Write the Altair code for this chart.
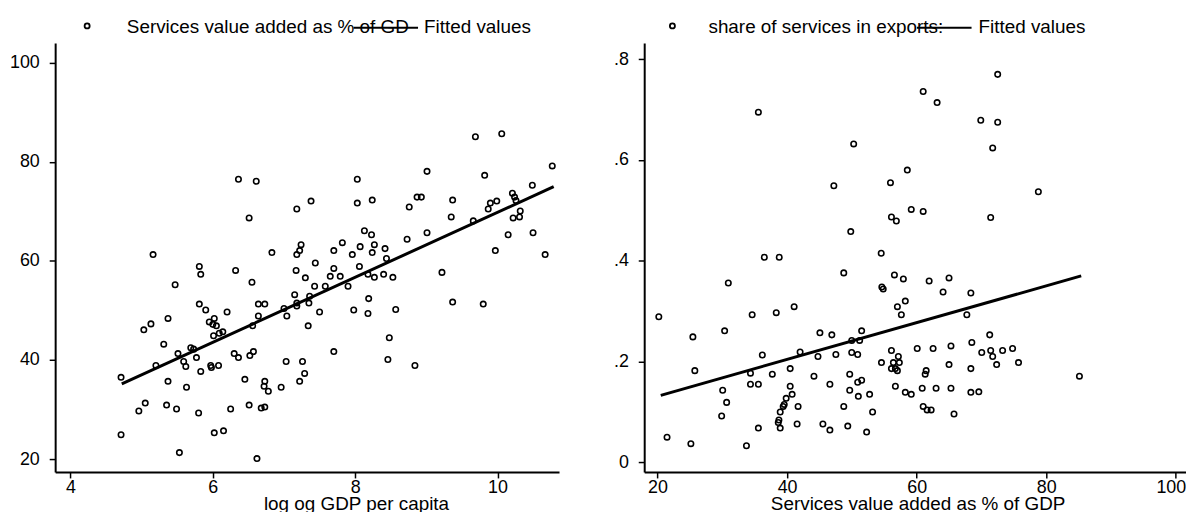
import altair as alt
import pandas as pd

# ---------------- data ----------------
# left panel: log GDP per capita vs services value added (% of GDP)
left_x = [6.36, 6.61, 7.38, 7.18, 6.51, 5.16, 6.83, 7.24, 7.22, 7.18, 7.44, 5.81, 5.83, 6.32, 7.17, 7.30,
          5.47, 6.55, 7.43, 7.58, 7.15, 7.36, 5.81, 5.90, 6.64, 6.73, 7.18, 7.35, 7.18, 7.00, 6.20, 7.50,
          5.37, 5.13, 5.03, 6.02, 5.95, 6.05, 6.00, 6.64, 7.04, 6.56, 7.34, 6.14, 6.09, 6.01, 5.31, 5.69,
          5.73, 5.51, 5.77, 5.59, 5.62, 5.20, 6.30, 6.36, 6.57, 6.52, 5.97, 5.98, 6.08, 5.83, 4.71, 7.03,
          7.26, 7.29, 7.22, 5.37, 5.63, 6.45, 6.73, 6.72, 6.78, 6.96, 5.05, 4.96, 5.35, 5.49, 5.80, 6.25,
          6.51, 6.68, 6.73, 4.71, 6.02, 6.15, 5.53, 6.62,
          9.69, 10.06, 10.77, 9.01, 8.03, 9.82, 10.49, 10.21, 10.24, 10.26, 8.03, 8.24, 8.87, 8.93, 9.37,
          8.76, 9.90, 9.99, 9.87, 10.32, 10.31, 10.22, 9.35, 9.66, 10.15, 10.50, 9.01, 8.73, 8.13, 8.23,
          7.82, 7.70, 8.07, 8.27, 8.24, 7.96, 8.42, 8.44, 9.97, 10.67, 7.70, 8.06, 9.22, 7.79, 8.18, 8.40,
          8.53, 8.27, 7.65,
          7.90, 8.19, 7.98, 8.18, 8.57, 9.37, 9.80, 8.48, 7.70, 8.46, 8.84]
left_y = [76.5, 76.1, 72.1, 70.5, 68.7, 61.3, 61.7, 63.3, 62.1, 61.3, 59.6, 58.9, 57.3, 58.1, 58.1, 56.6,
          55.2, 55.7, 54.9, 54.9, 53.2, 52.9, 51.3, 50.1, 51.3, 51.3, 51.5, 51.5, 50.9, 50.4, 49.7, 49.7,
          48.4, 47.3, 46.1, 48.4, 47.7, 46.9, 47.2, 48.9, 48.9, 46.9, 46.9, 45.7, 45.4, 44.9, 43.2, 42.5,
          42.2, 41.3, 40.5, 39.7, 38.7, 38.9, 41.3, 40.5, 41.7, 40.9, 38.9, 38.5, 38.9, 37.7, 36.5, 39.7,
          39.7, 37.3, 35.7, 35.7, 34.5, 36.1, 35.7, 34.7, 33.7, 34.5, 31.3, 29.7, 30.9, 30.1, 29.3, 30.1,
          30.9, 30.3, 30.5, 24.9, 25.3, 25.7, 21.3, 20.1,
          85.1, 85.7, 79.2, 78.1, 76.5, 77.3, 75.3, 73.7, 72.9, 72.2, 71.7, 72.3, 72.9, 72.9, 72.3,
          70.9, 71.7, 72.1, 70.5, 70.1, 68.9, 68.7, 68.9, 68.1, 65.3, 65.7, 65.7, 64.4, 66.1, 65.3,
          63.7, 62.1, 62.9, 63.3, 61.7, 61.3, 62.5, 60.5, 62.1, 61.3, 58.5, 58.9, 57.7, 56.9, 57.3, 57.3,
          56.7, 56.7, 56.9,
          54.9, 52.4, 50.1, 49.4, 50.2, 51.7, 51.3, 44.5, 41.7, 40.1, 38.9]
left_fit_x = [4.72, 10.79]
left_fit_y = [35.2, 75.0]

# right panel: services value added (% of GDP) vs share of services in exports
right_x = [35.57, 50.28, 58.56, 55.96, 47.22, 59.17, 56.11, 56.87, 49.83, 54.53, 36.49, 38.79, 48.75,
           56.57, 57.95,
           72.51, 61.01, 63.16, 69.90, 72.51, 71.74, 78.79, 61.01, 71.43,
           54.63, 54.84, 30.93, 20.20, 34.61, 38.33, 41.09, 57.03, 58.25, 57.64, 25.46, 30.36, 45.07,
           46.91, 51.51, 49.98, 51.20, 42.01, 36.18, 44.77, 47.53, 49.98, 50.90, 56.11, 57.18, 54.57,
           56.41, 57.33, 56.11, 56.72, 57.03, 25.76, 40.48, 34.35, 37.72, 44.15, 49.67, 34.35, 35.57,
           46.61, 50.90, 51.51, 56.72, 40.48, 30.06, 49.67, 58.25, 59.17, 40.78, 39.86, 39.56, 39.40,
           41.70, 30.67, 51.00, 52.74, 48.75, 38.94, 53.20, 29.90, 38.74, 38.64, 41.55, 45.53, 49.37,
           35.57, 38.94, 46.61, 52.28, 21.47, 25.15, 33.73,
           61.93, 65.00, 64.08, 68.37, 67.75, 71.28, 68.52, 60.09, 62.54, 65.30, 71.43, 73.27, 74.81,
           70.05, 71.74, 72.35, 75.73, 65.00, 68.37, 61.47, 61.32, 85.13, 60.86, 63.00, 65.30, 68.37,
           69.60, 61.01, 61.62, 62.24, 65.77]
right_y = [0.695, 0.632, 0.580, 0.555, 0.549, 0.502, 0.487, 0.479, 0.458, 0.415, 0.407, 0.407, 0.376,
           0.372, 0.364,
           0.770, 0.736, 0.714, 0.679, 0.675, 0.624, 0.537, 0.498, 0.486,
           0.348, 0.344, 0.356, 0.289, 0.293, 0.297, 0.309, 0.309, 0.320, 0.293, 0.249, 0.261, 0.257,
           0.253, 0.261, 0.242, 0.242, 0.219, 0.213, 0.210, 0.214, 0.218, 0.214, 0.222, 0.210, 0.198,
           0.198, 0.198, 0.186, 0.186, 0.182, 0.182, 0.186, 0.177, 0.175, 0.171, 0.175, 0.155, 0.155,
           0.155, 0.159, 0.163, 0.151, 0.151, 0.143, 0.143, 0.139, 0.135, 0.135, 0.127, 0.115, 0.111,
           0.111, 0.119, 0.131, 0.135, 0.111, 0.100, 0.100, 0.092, 0.084, 0.079, 0.076, 0.076, 0.072,
           0.068, 0.068, 0.064, 0.060, 0.050, 0.037, 0.033,
           0.360, 0.366, 0.338, 0.336, 0.293, 0.253, 0.238, 0.226, 0.226, 0.231, 0.222, 0.222, 0.226,
           0.218, 0.210, 0.194, 0.198, 0.194, 0.186, 0.182, 0.175, 0.171, 0.147, 0.147, 0.147, 0.139,
           0.140, 0.111, 0.104, 0.104, 0.096]
right_fit_x = [20.5, 85.4]
right_fit_y = [0.133, 0.370]

# text
left_xtitle = "log og GDP per capita"
right_xtitle = "Services value added as % of GDP"
left_legend = ["Services value added as % of GD", "Fitted values"]
right_legend = ["share of services in exports:", "Fitted values"]
left_xticks = [4, 6, 8, 10]
left_yticks = [20, 40, 60, 80, 100]
right_xticks = [20, 40, 60, 80, 100]
right_yticks = [0, 0.2, 0.4, 0.6, 0.8]

FONT = "Liberation Sans"


def panel(xs, ys, fx, fy, xdom, ydom, xticks, yticks, ylabelexpr, xtitle, titlex,
          width, height, legend, leg, flush_end=False):
    pts = pd.DataFrame({"x": xs, "y": ys})
    fit = pd.DataFrame({"x": fx, "y": fy})
    xargs = dict(values=xticks, title=xtitle, grid=False, domainColor="black", domainWidth=2,
                 tickColor="black", tickWidth=1.5, tickSize=6, labelFont=FONT, labelFontSize=18,
                 labelColor="black", labelPadding=1, labelOverlap=False,
                 titleFont=FONT, titleFontSize=19, titleFontWeight="normal", titleColor="black",
                 titleX=titlex, titleY=37.5, titleBaseline="alphabetic", titleAlign="center",
                 format="d")
    if flush_end:
        # the last label (100) sits right-aligned, pushed 10px outward, as in the reference
        xargs["labelFlush"] = 11
        xargs["labelFlushOffset"] = 10
    else:
        xargs["labelFlush"] = False
    xaxis = alt.Axis(**xargs)
    yargs = dict(values=yticks, title=None, grid=False, domainColor="black", domainWidth=2,
                 tickColor="black", tickWidth=1.5, tickSize=6, labelFont=FONT, labelFontSize=18,
                 labelColor="black", labelPadding=10, labelFlush=False, labelOverlap=False)
    if ylabelexpr:
        yargs["labelExpr"] = ylabelexpr
    yaxis = alt.Axis(**yargs)
    xs_ = alt.Scale(domain=xdom, nice=False, zero=False)
    ys_ = alt.Scale(domain=ydom, nice=False, zero=False)

    points = alt.Chart(pts).mark_point(shape="circle", filled=False, size=30, strokeWidth=1.6,
                                       color="black", opacity=1).encode(
        x=alt.X("x:Q", scale=xs_, axis=xaxis),
        y=alt.Y("y:Q", scale=ys_, axis=yaxis),
    )
    line = alt.Chart(fit).mark_line(color="black", strokeWidth=3).encode(
        x=alt.X("x:Q", scale=xs_), y=alt.Y("y:Q", scale=ys_))

    d1 = pd.DataFrame({"t": [legend[0]]})
    d2 = pd.DataFrame({"t": [legend[1]]})
    key1 = alt.Chart(d1).mark_point(shape="circle", filled=False, size=26, strokeWidth=1.8,
                                    color="black", opacity=1).encode(
        x=alt.value(leg[0]), y=alt.value(-17.3))
    lab1 = alt.Chart(d1).mark_text(align="left", baseline="middle", font=FONT, fontSize=19,
                                   color="black").encode(x=alt.value(leg[1]), y=alt.value(-16.5), text="t:N")
    key2 = alt.Chart(d2).mark_rule(color="black", strokeWidth=2).encode(
        x=alt.value(leg[2]), x2=alt.value(leg[3]), y=alt.value(-15.5))
    lab2 = alt.Chart(d2).mark_text(align="left", baseline="middle", font=FONT, fontSize=19,
                                   color="black").encode(x=alt.value(leg[4]), y=alt.value(-16.5), text="t:N")
    return alt.layer(points, line, key1, lab1, key2, lab2).properties(width=width, height=height)


PLOT_H = 432
left = panel(left_x, left_y, left_fit_x, left_fit_y, [3.784, 10.865], [17.393, 104.01],
             left_xticks, left_yticks, None, left_xtitle, 303, 507.5, PLOT_H, left_legend,
             [32.2, 72.2, 300.5, 365.5, 371.5])
right = panel(right_x, right_y, right_fit_x, right_fit_y, [17.946, 101.58], [-0.01911, 0.83212],
              right_xticks, right_yticks,
              "datum.value == 0 ? '0' : replace(format(datum.value, '.1f'), '0.', '.')",
              right_xtitle, 275.4, 545.7, PLOT_H, right_legend,
              [28.4, 64.7, 274.7, 329.7, 336.7], flush_end=True)

chart = alt.hconcat(left, right, spacing=85.3, bounds="flush").configure_view(
    stroke=None).properties(padding={"left": 0.5, "top": 7.5, "right": 0, "bottom": -3.5},
                            background="white")

chart.save("out.html", embed_options={"renderer": "svg", "actions": False})
